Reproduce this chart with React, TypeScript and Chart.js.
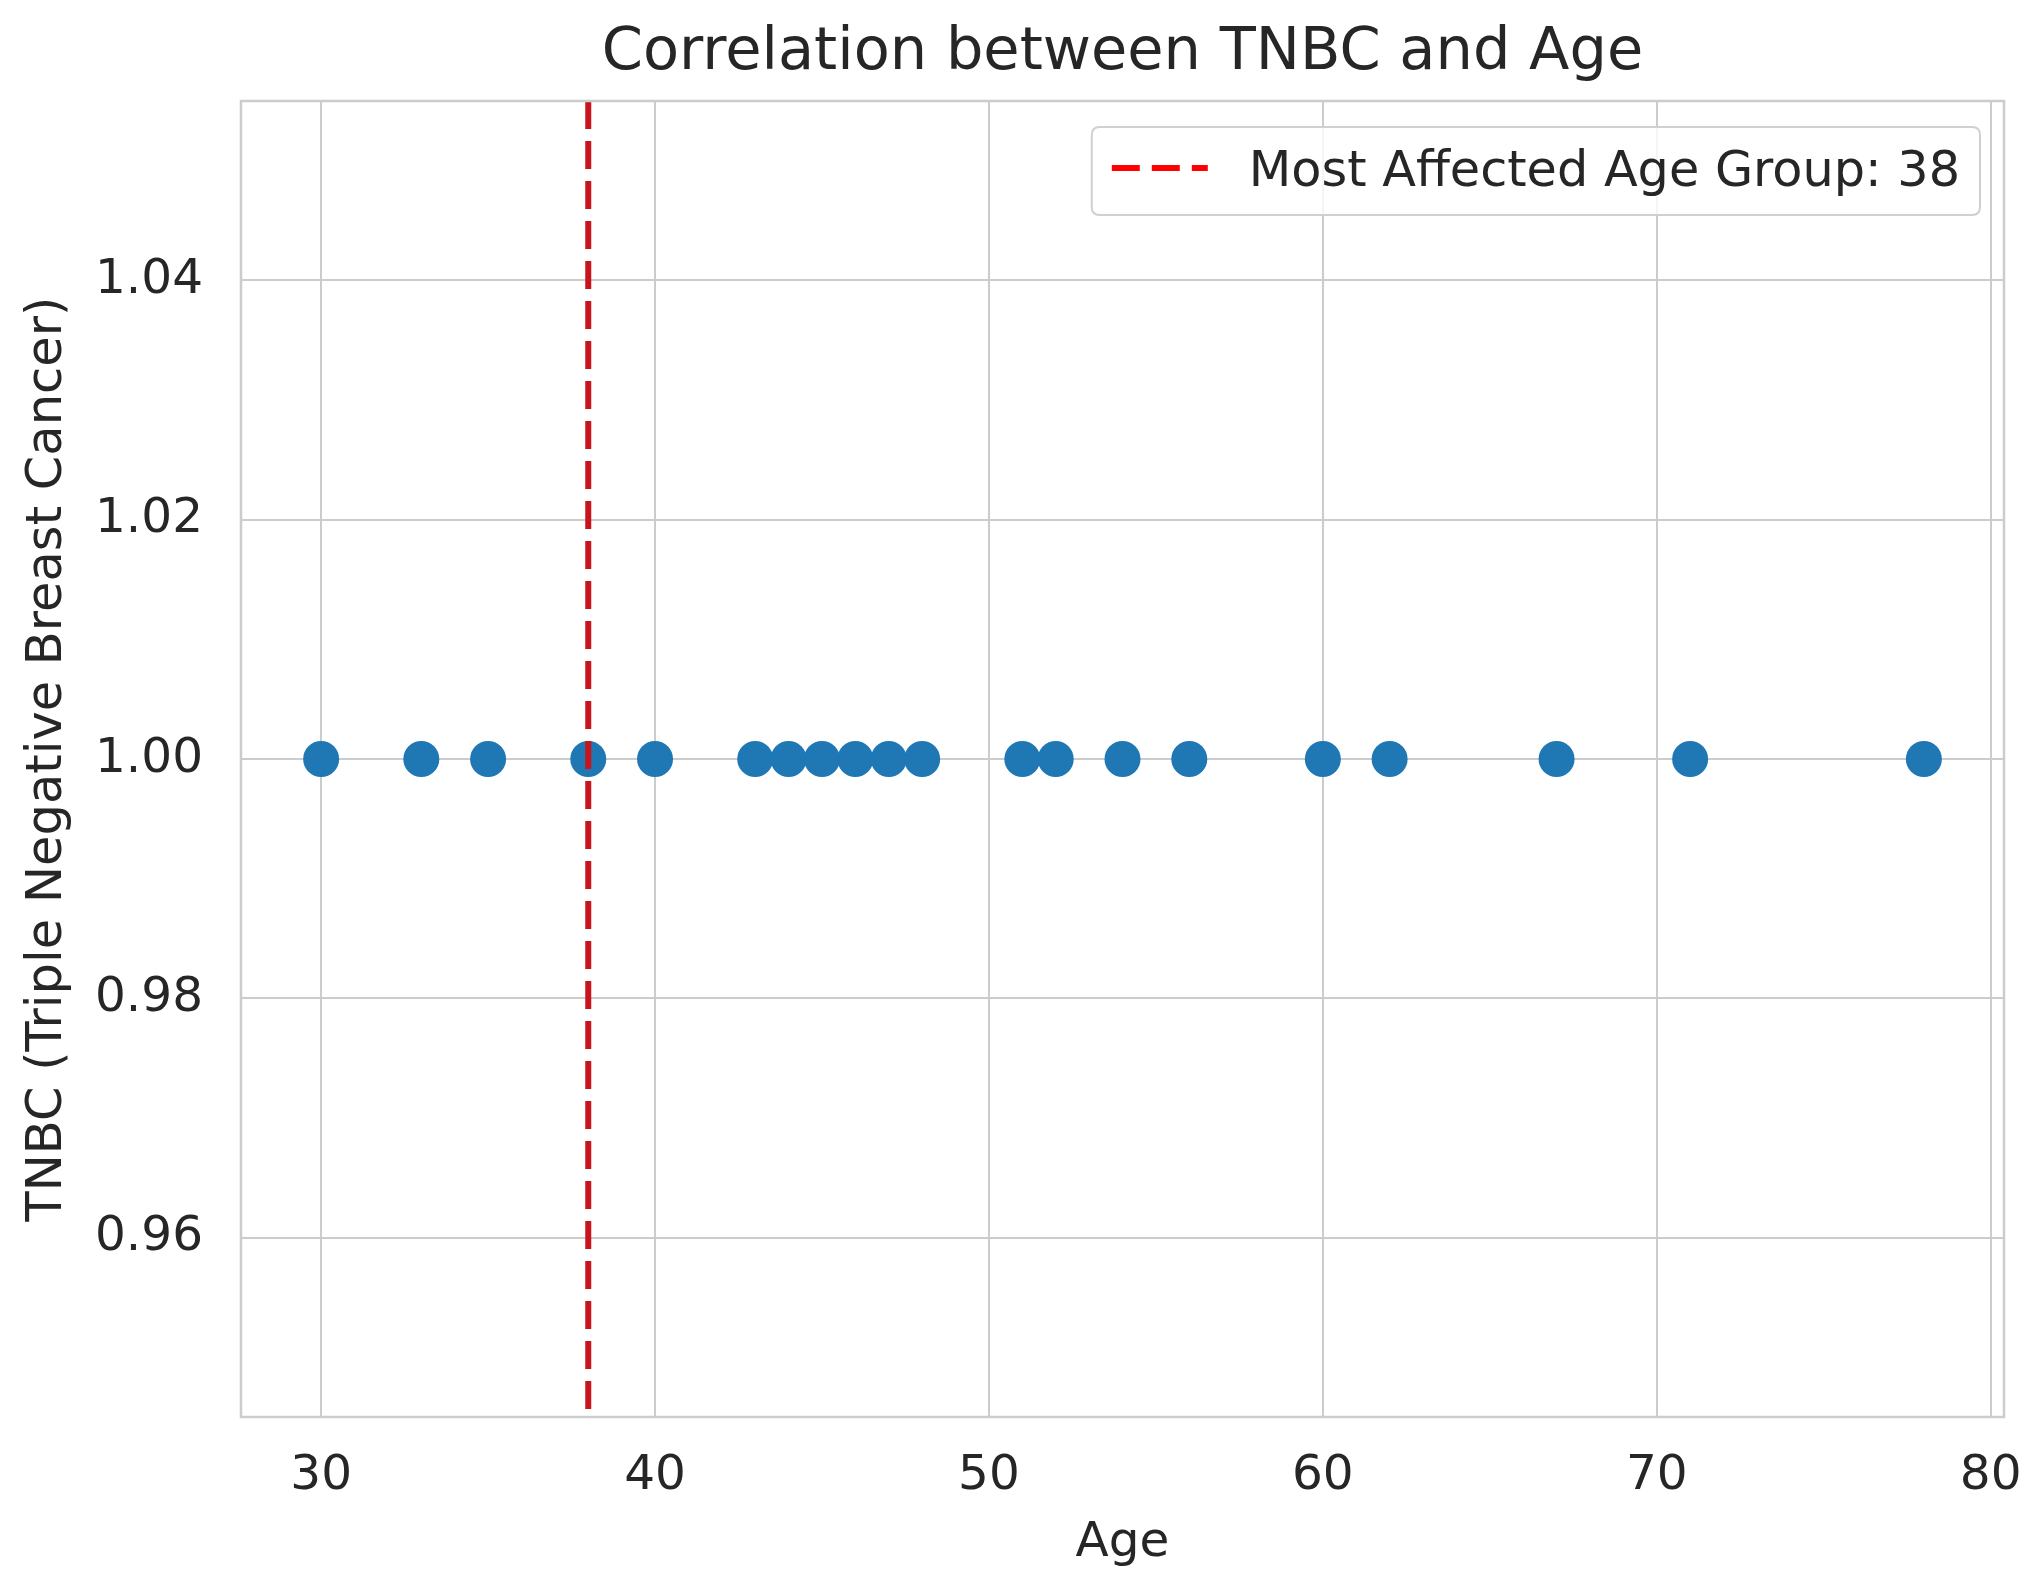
import React, { useEffect, useRef } from "react";
import { Chart, registerables } from "chart.js";

Chart.register(...registerables);

// ---- data ----
const ages = [30, 33, 35, 38, 40, 43, 44, 45, 46, 47, 48, 51, 52, 54, 56, 60, 62, 67, 71, 78];
const tnbcValues = [1, 1, 1, 1, 1, 1, 1, 1, 1, 1, 1, 1, 1, 1, 1, 1, 1, 1, 1, 1];
const mostAffectedAge = 38;
const xRange = [27.6, 80.4];
const yRange = [0.945, 1.055];
const xTickStep = 10;
const yTickStep = 0.02;

const titleText = "Correlation between TNBC and Age";
const xLabel = "Age";
const yLabel = "TNBC (Triple Negative Breast Cancer)";
const lineLabel = `Most Affected Age Group: ${mostAffectedAge}`;

// ---- styles ----
const FONT = "'DejaVu Sans', sans-serif";
const TEXT = "#262626";
const GRID = "#cccccc";
const BLUE = "#1f77b4";
const LINE_RED = "#c8141c";
const LEGEND_RED = "#ff0000";

const framePlugin = {
  id: "frame",
  afterDatasetsDraw(chart: any) {
    const { ctx, chartArea } = chart;
    const { left, top, right, bottom } = chartArea;
    ctx.save();
    ctx.strokeStyle = GRID;
    ctx.lineWidth = 2.5;
    ctx.strokeRect(left, top, right - left, bottom - top);
    ctx.restore();
  },
};

const legendPlugin = {
  id: "customLegend",
  afterDraw(chart: any) {
    const { ctx, chartArea } = chart;
    const ds = chart.data.datasets.find((d: any) => d.inLegend);
    if (!ds) return;
    const fontSize = 49.3;
    ctx.save();
    ctx.font = `${fontSize}px ${FONT}`;
    const tw = ctx.measureText(ds.label).width;
    const padL = 20;
    const sampleLen = 96;
    const gap = 41;
    const padR = 20;
    const w = padL + sampleLen + gap + tw + padR;
    const h = 88;
    const x = chartArea.right - 24 - w;
    const y = chartArea.top + 26;
    const r = 8;
    ctx.beginPath();
    ctx.moveTo(x + r, y);
    ctx.lineTo(x + w - r, y);
    ctx.quadraticCurveTo(x + w, y, x + w, y + r);
    ctx.lineTo(x + w, y + h - r);
    ctx.quadraticCurveTo(x + w, y + h, x + w - r, y + h);
    ctx.lineTo(x + r, y + h);
    ctx.quadraticCurveTo(x, y + h, x, y + h - r);
    ctx.lineTo(x, y + r);
    ctx.quadraticCurveTo(x, y, x + r, y);
    ctx.closePath();
    ctx.fillStyle = "rgba(255,255,255,0.8)";
    ctx.fill();
    ctx.strokeStyle = "#d0d0d0";
    ctx.lineWidth = 2;
    ctx.stroke();

    const cy = y + 41;
    ctx.beginPath();
    ctx.setLineDash([28, 12]);
    ctx.lineWidth = 6;
    ctx.strokeStyle = LEGEND_RED;
    ctx.moveTo(x + padL, cy);
    ctx.lineTo(x + padL + sampleLen, cy);
    ctx.stroke();
    ctx.setLineDash([]);

    ctx.fillStyle = TEXT;
    ctx.textBaseline = "alphabetic";
    ctx.textAlign = "left";
    ctx.fillText(ds.label, x + padL + sampleLen + gap, cy + 17.8);
    ctx.restore();
  },
};

export default function App() {
  const canvasRef = useRef<HTMLCanvasElement | null>(null);

  useEffect(() => {
    if (!canvasRef.current) return;
    Chart.defaults.font.family = FONT;
    Chart.defaults.color = TEXT;

    const chart = new Chart(canvasRef.current, {
      type: "scatter",
      data: {
        datasets: [
          {
            type: "line",
            label: lineLabel,
            inLegend: true,
            data: [
              { x: mostAffectedAge, y: yRange[1] },
              { x: mostAffectedAge, y: yRange[0] },
            ],
            borderColor: LINE_RED,
            borderWidth: 6,
            borderDash: [28, 12],
            pointRadius: 0,
            fill: false,
            order: 0,
          } as any,
          {
            type: "scatter",
            label: "TNBC",
            data: ages.map((a, i) => ({ x: a, y: tnbcValues[i] })),
            backgroundColor: BLUE,
            borderWidth: 0,
            pointRadius: 18,
            pointHoverRadius: 18,
            order: 1,
          } as any,
        ],
      },
      options: {
        animation: false,
        responsive: false,
        devicePixelRatio: 1,
        events: [],
        layout: { padding: { left: 0, right: 32, top: 0, bottom: 0 } },
        plugins: {
          legend: { display: false },
          tooltip: { enabled: false },
          title: {
            display: true,
            text: titleText,
            fullSize: false,
            color: TEXT,
            font: { size: 59, weight: "normal", family: FONT },
            padding: { top: 18.6, bottom: 11.6 },
          },
        },
        scales: {
          x: {
            type: "linear",
            min: xRange[0],
            max: xRange[1],
            border: { display: false },
            grid: { color: GRID, lineWidth: 2, drawTicks: false },
            ticks: {
              stepSize: xTickStep,
              includeBounds: false,
              padding: 30,
              color: TEXT,
              font: { size: 48.5, family: FONT },
              maxRotation: 0,
            },
            title: {
              display: true,
              text: xLabel,
              color: TEXT,
              font: { size: 48.5, family: FONT },
              padding: { top: 0, bottom: 7.6 },
            },
            afterFit(scale: any) {
              scale.height = 163;
              scale.paddingLeft = 0;
              scale.paddingRight = 0;
            },
          },
          y: {
            type: "linear",
            min: yRange[0],
            max: yRange[1],
            border: { display: false },
            grid: { color: GRID, lineWidth: 2, drawTicks: false },
            ticks: {
              stepSize: yTickStep,
              includeBounds: false,
              padding: 38,
              color: TEXT,
              font: { size: 48.5, family: FONT },
              callback: (v: any) => Number(v).toFixed(2),
            },
            title: {
              display: true,
              text: yLabel,
              color: TEXT,
              font: { size: 49.5, family: FONT },
              padding: { top: 18.2, bottom: 0 },
            },
            afterFit(scale: any) {
              scale.width = 241;
              scale.paddingTop = 0;
              scale.paddingBottom = 0;
            },
          },
        },
      } as any,
      plugins: [framePlugin, legendPlugin],
    });

    return () => chart.destroy();
  }, []);

  return (
    <div style={{ position: "fixed", left: 0, top: 0, width: 2036, height: 1580, background: "#ffffff" }}>
      <canvas ref={canvasRef} width={2036} height={1580} style={{ width: 2036, height: 1580, display: "block" }} />
    </div>
  );
}
